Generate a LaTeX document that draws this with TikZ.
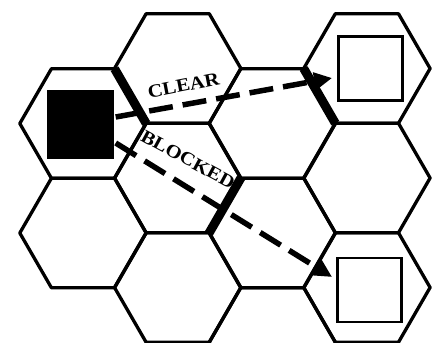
\documentclass[tikz,border=0pt]{standalone}
\usepackage{fontspec}
\setmainfont{Liberation Serif}
\usetikzlibrary{arrows.meta}
\newcommand\hexcell[1]{\draw[hexline] (#1) +(0:63.2) -- +(60:63.2) -- +(120:63.2) -- +(180:63.2) -- +(240:63.2) -- +(300:63.2) -- cycle;}
\begin{document}
\begin{tikzpicture}[x=1pt,y=-1pt,
  hexline/.style={line width=3.3pt, line join=round},
  wall/.style={line width=9pt, line cap=butt},
  route/.style={line width=5.5pt, dash pattern=on 24pt off 10pt, -{Triangle[length=18pt,width=17pt]}},
  target/.style={draw, line width=2.8pt, minimum size=64pt, inner sep=0pt},
  lbl/.style={inner sep=0pt, font=\fontsize{18.5}{20}\selectfont\bfseries}]
\useasboundingbox (0,0) rectangle (437,343);
\clip (0,0) rectangle (437,343);
% hex centres
\coordinate (h00) at (83,123.5);
\coordinate (h01) at (83,233);
\coordinate (h10) at (177.7,68.5);
\coordinate (h11) at (177.7,178);
\coordinate (h12) at (177.7,287.5);
\coordinate (h20) at (272.3,123.5);
\coordinate (h21) at (272.3,233);
\coordinate (h22) at (272.3,342.5);
\coordinate (h30) at (366.9,68.5);
\coordinate (h31) at (366.9,178);
\coordinate (h32) at (366.9,287.5);
\foreach \h in {h00,h01,h10,h11,h12,h20,h21,h22,h30,h31,h32} {\hexcell{\h}}
% walls
\coordinate (w1a) at (114.6,68.8);
\coordinate (w1b) at (146.2,123.5);
\coordinate (w2a) at (303.7,68.5);
\coordinate (w2b) at (335.3,123.2);
\coordinate (w3a) at (240.9,178);
\coordinate (w3b) at (209.1,233);
\draw[wall] (w1a) -- (w1b);
\draw[wall] (w2a) -- (w2b);
\draw[wall] (w3a) -- (w3b);
% squares
\node[fill=black, minimum width=67pt, minimum height=69pt, inner sep=0pt] (src) at (80,124) {};
\node[target] (dst1) at (370.5,68.5) {};
\node[target] (dst2) at (369.5,290) {};
% routes
\draw[route] ([xshift=2pt,yshift=7pt]src.east) -- ([xshift=-5pt,yshift=-9.5pt]dst1.west);
\draw[route] ([xshift=2pt,yshift=-19pt]src.east) -- ([xshift=-4pt,yshift=13pt]dst2.west);
% labels
\node[lbl, rotate=11] (clear) at (183.5,85.5) {\scalebox{1.12}[1]{CLEAR}};
\node[lbl, rotate=-28.4] (blocked) at (188,159.5) {\scalebox{1.12}[1]{BLOCKED}};
\end{tikzpicture}
\end{document}
